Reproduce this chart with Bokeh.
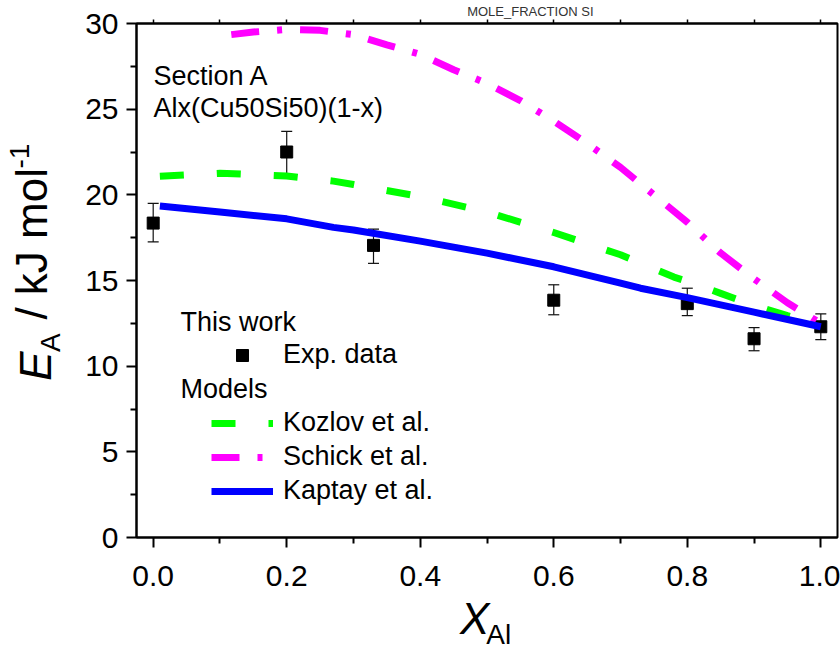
from bokeh.plotting import figure
from bokeh.models import (ColumnDataSource, Range1d, LinearAxis, FixedTicker, Whisker, TeeHead,
                          Label, Legend, LegendItem, PrintfTickFormatter, CustomJSTickFormatter)
from bokeh.embed import file_html
from bokeh.resources import INLINE

# ---------------- data ----------------
exp_x = [0.0, 0.2, 0.33, 0.6, 0.8, 0.9, 1.0]
exp_y = [18.35, 22.5, 17.05, 13.85, 13.65, 11.6, 12.3]
exp_hi = [19.5, 23.7, 18.0, 14.75, 14.55, 12.25, 13.05]
exp_lo = [17.25, 21.15, 16.0, 13.0, 12.95, 10.9, 11.55]

kozlov_x = [0.01, 0.1, 0.2, 0.27, 0.3, 0.4, 0.5, 0.6, 0.7, 0.78, 0.8, 0.85, 0.9, 0.95, 1.0]
kozlov_y = [21.08, 21.26, 21.1, 20.8, 20.6, 19.9, 19.0, 17.8, 16.5, 15.2, 14.95, 14.25, 13.55, 12.95, 12.4]

schick_x = [0.117, 0.15, 0.2, 0.25, 0.3, 0.35, 0.4, 0.45, 0.5, 0.55, 0.6, 0.65, 0.7, 0.75, 0.8, 0.85, 0.9, 0.95, 1.0]
schick_y = [29.35, 29.5, 29.65, 29.6, 29.35, 28.75, 28.2, 27.3, 26.5, 25.5, 24.3, 23.0, 21.6, 20.0, 18.4, 16.6, 15.1, 13.7, 12.5]

kaptay_x = [0.01, 0.1, 0.2, 0.27, 0.3, 0.4, 0.5, 0.6, 0.7, 0.73, 0.8, 0.9, 1.0]
kaptay_y = [19.35, 19.0, 18.6, 18.1, 17.95, 17.3, 16.6, 15.8, 14.85, 14.55, 14.0, 13.15, 12.3]

x_major = [0.0, 0.2, 0.4, 0.6, 0.8, 1.0]
x_minor = [0.1, 0.3, 0.5, 0.7, 0.9]
y_major = [0, 5, 10, 15, 20, 25, 30]
y_minor = [2.5, 7.5, 12.5, 17.5, 22.5, 27.5]

FONT = "Liberation Sans"
NB = "\u00a0"
SP = 0.278          # width of a space, in em, for Liberation Sans

# ---------------- figure ----------------
L, R, T, B = 136, 3, 22, 121
W, H = 840, 658
p = figure(width=W, height=H, output_backend="svg", toolbar_location=None,
           x_range=Range1d(-0.025, 1.025), y_range=Range1d(0, 30),
           min_border_left=L, min_border_right=R, min_border_top=T, min_border_bottom=B)
p.xgrid.visible = False
p.ygrid.visible = False
p.outline_line_color = "black"
p.outline_line_width = 2
p.background_fill_color = "white"
p.border_fill_color = "white"

xc = (L + (W - R)) / 2      # canvas x of frame centre
yc = (T + (H - B)) / 2      # canvas y of frame centre

for ax in (p.xaxis[0], p.yaxis[0]):
    ax.axis_line_width = 2
    ax.major_tick_line_width = 2
    ax.minor_tick_line_width = 2
    ax.major_tick_out = 10
    ax.major_tick_in = 0
    ax.minor_tick_out = 6
    ax.minor_tick_in = 0
    ax.major_label_text_font = FONT
    ax.major_label_text_font_size = "30px"
    ax.major_label_text_color = "black"
    ax.axis_label_text_font = FONT
    ax.axis_label_text_color = "black"

blank = CustomJSTickFormatter(code="return ''")

def pad_end(text, w_em, size, start, centre):
    """text at the start of a centred string, trailing no-break spaces."""
    n = round((2 * abs(start - centre) - w_em * size) / (SP * size))
    return text + NB * max(n, 0)

def pad_start(text, w_em, size, end, centre):
    """text at the end of a centred string, leading no-break spaces."""
    n = round((2 * abs(centre - end) - w_em * size) / (SP * size))
    return NB * max(n, 0) + text

def label_axis(side, text, size, standoff, style="normal"):
    ax = LinearAxis(ticker=FixedTicker(ticks=[15] if side == "left" else [0.5]), formatter=blank,
                    axis_line_color=None, major_tick_line_color=None, minor_tick_line_color=None,
                    major_tick_out=0, major_tick_in=0, minor_tick_out=0, minor_tick_in=0,
                    major_label_text_font_size="0px", major_label_standoff=0,
                    axis_label=text, axis_label_text_font=FONT, axis_label_text_font_size=size,
                    axis_label_text_font_style=style, axis_label_text_color="black",
                    axis_label_standoff=standoff)
    p.add_layout(ax, side)

# x axis: ticks + "X" (italic) ; extra axis: subscript "Al"
p.xaxis[0].ticker = FixedTicker(ticks=x_major, minor_ticks=x_minor)
p.xaxis[0].formatter = PrintfTickFormatter(format="%.1f")
p.xaxis[0].major_label_standoff = 18
p.xaxis[0].axis_label = pad_end("X", 0.667, 44, 458, xc)
p.xaxis[0].axis_label_text_font_size = "44px"
p.xaxis[0].axis_label_text_font_style = "italic"
p.xaxis[0].axis_label_standoff = 5
label_axis("below", pad_start("Al", 0.889, 28, 512, xc), "28px", -27)

# y axis: ticks + subscript "A"; extra axes: "E", " / kJ mol", superscript "-1"
p.yaxis[0].ticker = FixedTicker(ticks=y_major, minor_ticks=y_minor)
p.yaxis[0].major_label_standoff = 8
p.yaxis[0].axis_label = pad_end("A", 0.667, 28, 351.5, yc)
p.yaxis[0].axis_label_text_font_size = "28px"
p.yaxis[0].axis_label_text_font_style = "normal"
p.yaxis[0].axis_label_standoff = 16
label_axis("left", pad_end("E", 0.667, 44, 380.8, yc), "44px", -27, "italic")
label_axis("left", pad_start("/ kJ mol", 3.445, 44, 169, yc), "44px", -48)
label_axis("left", pad_start("-1", 0.889, 28, 144, yc), "28px", -31)

# top axis: short ticks, plus the stray caption seen above the plot
top = LinearAxis(ticker=FixedTicker(ticks=x_major + x_minor), formatter=blank, axis_line_width=2,
                 major_tick_out=4, major_tick_in=0, minor_tick_out=0, minor_tick_in=0,
                 major_tick_line_width=1.5, major_label_text_font_size="0px",
                 major_label_standoff=0,
                 axis_label=pad_start("MOLE_FRACTION SI", 10.725, 13, 600, xc),
                 axis_label_text_font=FONT, axis_label_text_font_size="13px",
                 axis_label_text_font_style="normal",
                 axis_label_text_color="#333333", axis_label_standoff=1)
p.add_layout(top, "above")

# ---------------- data glyphs ----------------
src = ColumnDataSource(dict(x=exp_x, y=exp_y, hi=exp_hi, lo=exp_lo))
wh = Whisker(base="x", upper="hi", lower="lo", source=src, line_color="#111111", line_width=1.2,
             upper_head=TeeHead(size=11, line_color="#111111", line_width=1.2),
             lower_head=TeeHead(size=11, line_color="#111111", line_width=1.2))
p.add_layout(wh)
r_exp = p.scatter(x="x", y="y", source=src, marker="square", size=12, color="black")

r_koz = p.line(kozlov_x, kozlov_y, line_color="#00ff00", line_width=7, line_dash="24 33")
r_sch = p.line(schick_x, schick_y, line_color="#ff00ff", line_width=7, line_dash="28 18 5 18")
r_kap = p.line(kaptay_x, kaptay_y, line_color="#0000ff", line_width=7)

# ---------------- legends ----------------
leg_kw = dict(padding=0, margin=0, spacing=3, glyph_width=62, glyph_height=30, label_height=30,
              label_standoff=10, label_text_font=FONT, label_text_font_size="27px",
              label_text_color="black", border_line_alpha=0, background_fill_alpha=0)
leg1 = Legend(items=[LegendItem(label="Exp. data", renderers=[r_exp])],
              location=(75, 167), **leg_kw)
leg2 = Legend(items=[LegendItem(label="Kozlov et al.", renderers=[r_koz]),
                     LegendItem(label="Schick et al.", renderers=[r_sch]),
                     LegendItem(label="Kaptay et al.", renderers=[r_kap])],
              location=(75, 31), **leg_kw)
p.add_layout(leg1, "center")
p.add_layout(leg2, "center")

def lab(text, x, y, size, baseline="alphabetic"):
    p.add_layout(Label(x=x, y=y, x_units="screen", y_units="screen", text=text,
                       text_font=FONT, text_font_size=size, text_align="left",
                       text_baseline=baseline, text_color="black"))

lab("This work", 44, 216, "27px", baseline="middle")
lab("Models", 44, 149, "27px", baseline="middle")
lab("Section A", 17, 462, "27px")
lab("Alx(Cu50Si50)(1-x)", 17, 430, "27px")

open("out.html", "w").write(file_html(p, INLINE))
